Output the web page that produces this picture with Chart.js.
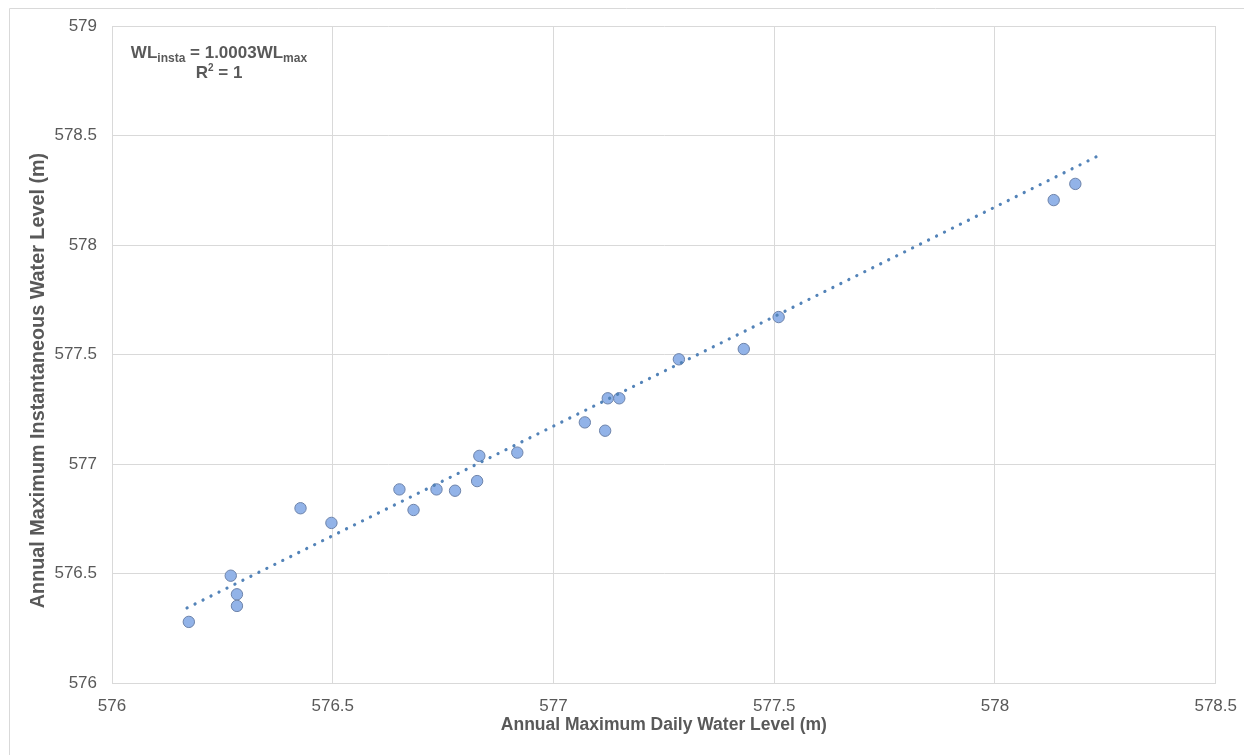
<!DOCTYPE html>
<html>
<head>
<meta charset="utf-8">
<script src="https://cdn.jsdelivr.net/npm/chart.js@4/dist/chart.umd.min.js"></script>
<style>
  html, body { margin: 0; padding: 0; background: #ffffff; }
  #wrap { width: 1250px; height: 755px; }
</style>
</head>
<body>
<div id="wrap"><canvas id="chart" width="1250" height="755"></canvas></div>
<script>
// Annual maximum water levels (m): daily value vs instantaneous value
const dailyLevel = [
  576.174, 576.269, 576.283, 576.283, 576.427, 576.497, 576.651, 576.683,
  576.735, 576.777, 576.827, 576.832, 576.918, 577.071, 577.117, 577.123,
  577.149, 577.284, 577.431, 577.510, 578.133, 578.182
];
const instLevel = [
  576.279, 576.490, 576.405, 576.352, 576.798, 576.731, 576.884, 576.790,
  576.884, 576.878, 576.922, 577.037, 577.052, 577.190, 577.152, 577.300,
  577.300, 577.478, 577.525, 577.671, 578.205, 578.279
];

// Axis ticks
const xTicks = [576, 576.5, 577, 577.5, 578, 578.5];
const yTicks = [576, 576.5, 577, 577.5, 578, 578.5, 579];

// Linear trendline through the origin, WLinsta = 1.0003 WLmax
const trendSlope = 1.0003;
const trendRange = [576.17, 578.23];

const xTitle = 'Annual Maximum Daily Water Level (m)';
const yTitle = 'Annual Maximum Instantaneous Water Level (m)';

const FONT = '"Liberation Sans", Arial, Helvetica, sans-serif';
const TEXT = '#595959';
const GRID = '#D9D9D9';

const points = dailyLevel.map((x, i) => ({ x: x, y: instLevel[i] }));
const trend = trendRange.map(x => ({ x: x, y: trendSlope * x }));

// Draws the rotated y title, the regression label and the outer frame
const decorations = {
  id: 'decorations',
  afterDraw(chart) {
    const ctx = chart.ctx;
    const area = chart.chartArea;
    ctx.save();

    // outer frame (top and left edges)
    ctx.strokeStyle = GRID;
    ctx.lineWidth = 1;
    ctx.beginPath();
    ctx.moveTo(9.5, chart.height);
    ctx.lineTo(9.5, 8.5);
    ctx.lineTo(chart.width - 6, 8.5);
    ctx.stroke();

    // y axis title
    ctx.fillStyle = TEXT;
    ctx.font = 'bold 19.8px ' + FONT;
    ctx.textAlign = 'center';
    ctx.textBaseline = 'middle';
    ctx.translate(39, chart.height / 2 + 3);
    ctx.rotate(-Math.PI / 2);
    ctx.fillText(yTitle, 0, 0);
    ctx.setTransform(1, 0, 0, 1, 0, 0);

    // regression equation
    const big = 'bold 17px ' + FONT;
    const small = 'bold 12px ' + FONT;
    const parts = [
      { t: 'WL', f: big, dy: 0 },
      { t: 'insta', f: small, dy: 4 },
      { t: ' = 1.0003WL', f: big, dy: 0 },
      { t: 'max', f: small, dy: 4 }
    ];
    let total = 0;
    parts.forEach(p => { ctx.font = p.f; p.w = ctx.measureText(p.t).width; total += p.w; });
    const cx = area.left + 107;
    const base1 = area.top + 32;
    let x = cx - total / 2;
    ctx.textAlign = 'left';
    ctx.textBaseline = 'alphabetic';
    parts.forEach(p => { ctx.font = p.f; ctx.fillText(p.t, x, base1 + p.dy); x += p.w; });

    const line2 = [
      { t: 'R', f: big, dy: 0 },
      { t: '2', f: 'bold 10px ' + FONT, dy: -7 },
      { t: ' = 1', f: big, dy: 0 }
    ];
    total = 0;
    line2.forEach(p => { ctx.font = p.f; p.w = ctx.measureText(p.t).width; total += p.w; });
    x = cx - total / 2;
    const base2 = base1 + 20;
    line2.forEach(p => { ctx.font = p.f; ctx.fillText(p.t, x, base2 + p.dy); x += p.w; });

    ctx.restore();
  }
};

new Chart(document.getElementById('chart'), {
  data: {
    datasets: [
      {
        type: 'line',
        label: 'Linear trend',
        data: trend,
        borderColor: '#5383B8',
        borderWidth: 3.2,
        borderDash: [0.1, 8.8],
        borderCapStyle: 'round',
        pointRadius: 0,
        fill: false,
        order: 0
      },
      {
        type: 'scatter',
        label: 'Annual maximum',
        data: points,
        backgroundColor: '#92B3E8',
        borderColor: '#6D83AA',
        borderWidth: 1,
        pointRadius: 5.7,
        order: 1
      }
    ]
  },
  options: {
    responsive: false,
    animation: false,
    layout: { padding: { top: 26, right: 32, bottom: 0, left: 0 } },
    plugins: {
      legend: { display: false },
      tooltip: { enabled: false }
    },
    scales: {
      x: {
        type: 'linear',
        min: xTicks[0],
        max: xTicks[xTicks.length - 1],
        afterBuildTicks: s => { s.ticks = xTicks.map(v => ({ value: v })); },
        afterFit: s => { s.height = 72; },
        grid: { color: GRID, lineWidth: 1, drawTicks: false },
        border: { display: true, color: GRID },
        ticks: {
          padding: 13,
          color: TEXT,
          font: { family: FONT, size: 17 },
          callback: v => String(v)
        },
        title: {
          display: true,
          text: xTitle,
          color: TEXT,
          font: { family: FONT, size: 17.5, weight: 'bold' },
          padding: { top: 0, bottom: 19 }
        }
      },
      y: {
        type: 'linear',
        min: yTicks[0],
        max: yTicks[yTicks.length - 1],
        afterBuildTicks: s => { s.ticks = yTicks.map(v => ({ value: v })); },
        afterFit: s => { s.width = 112; },
        grid: { color: GRID, lineWidth: 1, drawTicks: false },
        border: { display: true, color: GRID },
        ticks: {
          padding: 15,
          color: TEXT,
          font: { family: FONT, size: 17 },
          callback: v => String(v)
        }
      }
    }
  },
  plugins: [decorations]
});
</script>
</body>
</html>
